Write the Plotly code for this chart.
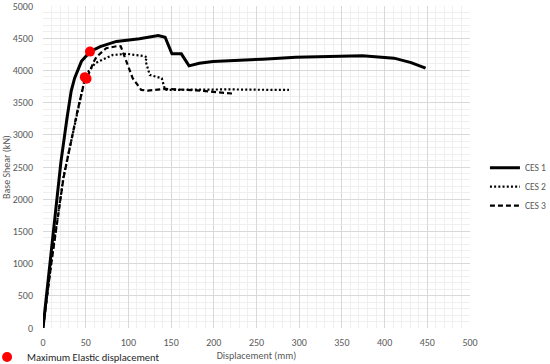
import plotly.graph_objects as go

ces1_x = [0, 8, 21, 28, 33, 37, 45, 55, 67, 86, 113, 135, 143, 151, 162, 171, 183, 199, 218, 242, 257, 296, 335, 374, 411, 431, 448]
ces1_y = [0, 1000, 2580, 3250, 3680, 3880, 4140, 4290, 4370, 4450, 4490, 4540, 4516, 4257, 4257, 4070, 4112, 4137, 4148, 4163, 4174, 4205, 4215, 4226, 4190, 4121, 4034]

ces2_x = [0, 10, 24, 39, 45, 49, 53, 61, 67, 82, 98, 117, 122, 120, 125, 129, 139, 143, 160, 218, 250, 288]
ces2_y = [0, 1050, 2350, 3280, 3600, 3880, 3980, 4110, 4150, 4240, 4257, 4226, 4205, 4150, 3930, 3914, 3878, 3697, 3700, 3705, 3700, 3697]

ces3_x = [0, 10, 24, 40, 48, 52, 60, 63, 74, 88, 91, 94, 105, 115, 123, 144, 180, 222]
ces3_y = [0, 1030, 2330, 3350, 3800, 3900, 4150, 4215, 4344, 4380, 4375, 4267, 3878, 3697, 3686, 3713, 3690, 3640]

elastic_x = [55, 49, 51]
elastic_y = [4292, 3895, 3870]

font_family = "Carlito, 'Liberation Sans Narrow', Lato, Arial, sans-serif"
grey = "#595959"

fig = go.Figure()
fig.add_trace(go.Scatter(x=ces1_x, y=ces1_y, mode="lines", name="CES 1",
                         line=dict(color="black", width=3), legend="legend"))
fig.add_trace(go.Scatter(x=ces2_x, y=ces2_y, mode="lines", name="CES 2",
                         line=dict(color="black", width=2.2, dash="2px,2.2px"), legend="legend"))
fig.add_trace(go.Scatter(x=ces3_x, y=ces3_y, mode="lines", name="CES 3",
                         line=dict(color="black", width=2.2, dash="5px,3px"), legend="legend"))
fig.add_trace(go.Scatter(x=elastic_x, y=elastic_y, mode="markers",
                         name="Maximum Elastic displacement",
                         marker=dict(color="#ff0000", size=10), legend="legend2"))

fig.update_layout(
    width=550, height=364,
    margin=dict(l=43, r=80, t=6, b=36, autoexpand=False),
    plot_bgcolor="white", paper_bgcolor="white",
    font=dict(family=font_family, size=10, color=grey),
    legend=dict(x=1.035, y=0.543, xanchor="left", yanchor="top",
                font=dict(size=9.5, color=grey), bgcolor="rgba(0,0,0,0)",
                itemwidth=30),
    legend2=dict(x=-0.131, y=-0.045, xanchor="left", yanchor="top",
                 font=dict(size=10.5, color="#262626"), bgcolor="rgba(0,0,0,0)",
                 orientation="h", itemwidth=30),
    xaxis=dict(range=[0, 500], dtick=50, tick0=0, showgrid=True, automargin=False,
               gridcolor="#d9d9d9", gridwidth=1, zeroline=False, showline=False,
               ticks="outside", ticklen=5, tickcolor="rgba(0,0,0,0)",
               tickfont=dict(size=10, color=grey), ticklabeloverflow="allow",
               minor=dict(dtick=10, showgrid=True, gridcolor="#efefef", gridwidth=1),
               title=dict(text="Displacement (mm)", font=dict(size=10, color=grey), standoff=2)),
    yaxis=dict(range=[0, 5000], dtick=500, tick0=0, showgrid=True, automargin=False,
               gridcolor="#d9d9d9", gridwidth=1, zeroline=False, showline=False,
               ticks="outside", ticklen=7, tickcolor="rgba(0,0,0,0)",
               tickfont=dict(size=10, color=grey), ticklabeloverflow="allow",
               minor=dict(dtick=100, showgrid=True, gridcolor="#efefef", gridwidth=1),
               title=dict(text="Base Shear (kN)", font=dict(size=10, color=grey), standoff=1)),
)

fig.write_html("out.html", config={"displayModeBar": False},
               post_script="document.body.style.margin='0';")
